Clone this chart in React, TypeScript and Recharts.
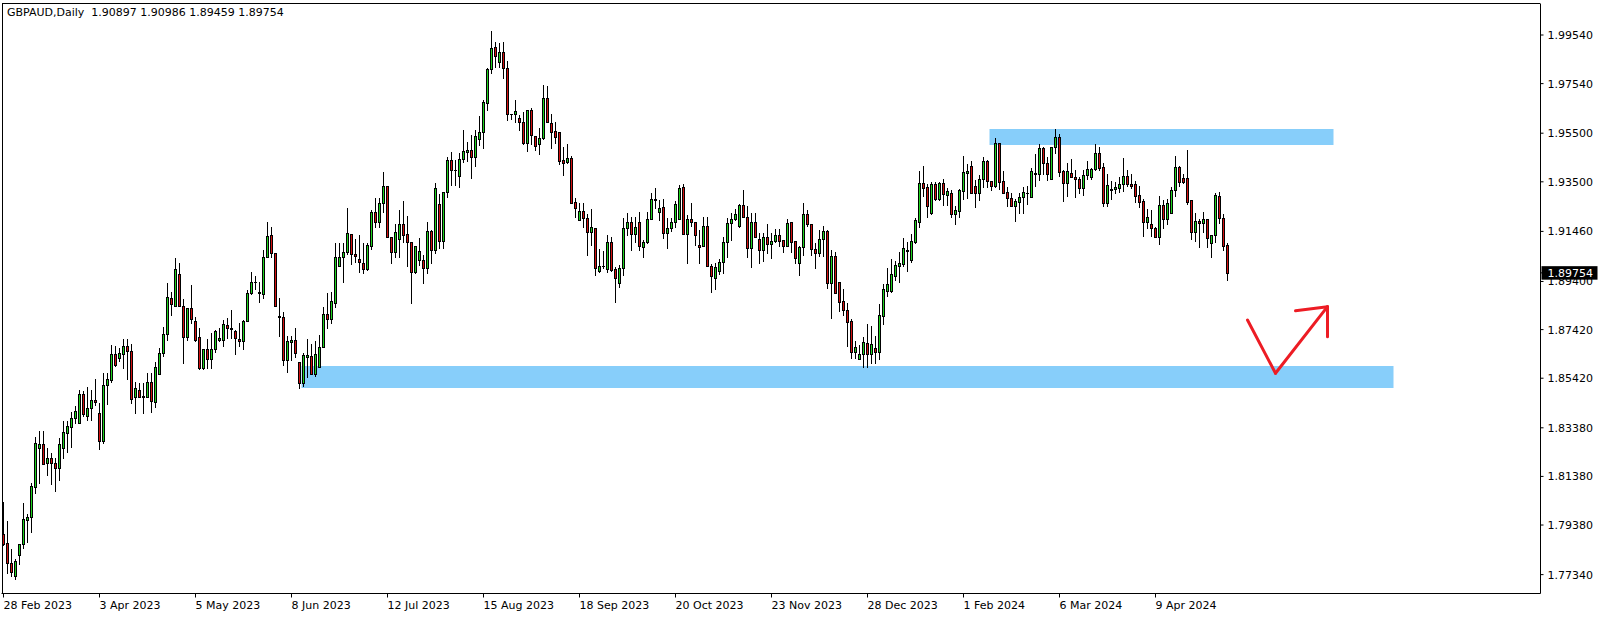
import React from 'react';
import { ComposedChart, Bar, XAxis, YAxis, ReferenceArea, ReferenceLine } from 'recharts';

const symbol = 'GBPAUD,Daily';

// daily OHLC, one entry per bar (28 Feb 2023 .. 3 May 2024)
const opens = [
  1.7901, 1.7864, 1.7782, 1.7728, 1.7815, 1.7860, 1.7959, 1.7971, 1.8094, 1.8255,
  1.8271, 1.8193, 1.8214, 1.8193, 1.8173, 1.8255, 1.8317, 1.8341, 1.8378, 1.8358,
  1.8477, 1.8387, 1.8420, 1.8452, 1.8399, 1.8284, 1.8514, 1.8535, 1.8642, 1.8625,
  1.8642, 1.8675, 1.8654, 1.8465, 1.8494, 1.8469, 1.8465, 1.8527, 1.8444, 1.8559,
  1.8646, 1.8724, 1.8872, 1.8839, 1.8971, 1.8839, 1.8712, 1.8831, 1.8777, 1.8712,
  1.8584, 1.8662, 1.8621, 1.8662, 1.8699, 1.8699, 1.8761, 1.8745, 1.8736, 1.8703,
  1.8695, 1.8777, 1.8893, 1.8938, 1.8897, 1.8888, 1.9041, 1.9131, 1.9057, 1.8798,
  1.8794, 1.8617, 1.8691, 1.8699, 1.8609, 1.8522, 1.8629, 1.8633, 1.8559, 1.8588,
  1.8670, 1.8806, 1.8786, 1.8852, 1.9004, 1.9041, 1.9061, 1.9136, 1.9053, 1.9033,
  1.9016, 1.8991, 1.9086, 1.9226, 1.9185, 1.9263, 1.9333, 1.9123, 1.9061, 1.9115,
  1.9176, 1.9136, 1.9102, 1.8979, 1.9028, 1.9028, 1.8995, 1.9148, 1.9070, 1.9259,
  1.9107, 1.9308, 1.9440, 1.9399, 1.9374, 1.9444, 1.9473, 1.9481, 1.9452, 1.9526,
  1.9555, 1.9674, 1.9814, 1.9905, 1.9843, 1.9884, 1.9818, 1.9629, 1.9629, 1.9613,
  1.9596, 1.9510, 1.9646, 1.9539, 1.9506, 1.9530, 1.9695, 1.9592, 1.9559, 1.9555,
  1.9440, 1.9432, 1.9448, 1.9267, 1.9193, 1.9230, 1.9201, 1.9144, 1.9160, 1.8983,
  1.9004, 1.8991, 1.9102, 1.8991, 1.8934, 1.8995, 1.9160, 1.9185, 1.9136, 1.9185,
  1.9082, 1.9102, 1.9197, 1.9279, 1.9226, 1.9247, 1.9140, 1.9160, 1.9185, 1.9197,
  1.9329, 1.9136, 1.9197, 1.9185, 1.9090, 1.9086, 1.9168, 1.9004, 1.8954, 1.8983,
  1.9020, 1.9102, 1.9181, 1.9197, 1.9168, 1.9255, 1.9205, 1.9078, 1.9185, 1.9115,
  1.9070, 1.9123, 1.9094, 1.9107, 1.9131, 1.9111, 1.9086, 1.9185, 1.9107, 1.9016,
  1.9082, 1.9218, 1.9176, 1.9074, 1.9057, 1.9115, 1.9148, 1.8934, 1.9045, 1.8938,
  1.8860, 1.8823, 1.8777, 1.8650, 1.8621, 1.8642, 1.8687, 1.8642, 1.8666, 1.8650,
  1.8798, 1.8901, 1.8901, 1.8963, 1.9004, 1.9012, 1.9065, 1.9028, 1.9102, 1.9185,
  1.9345, 1.9329, 1.9222, 1.9341, 1.9279, 1.9345, 1.9296, 1.9304, 1.9218, 1.9230,
  1.9312, 1.9386, 1.9415, 1.9333, 1.9304, 1.9362, 1.9436, 1.9353, 1.9333, 1.9510,
  1.9353, 1.9308, 1.9283, 1.9251, 1.9267, 1.9288, 1.9302, 1.9288, 1.9382, 1.9382,
  1.9489, 1.9428, 1.9362, 1.9493, 1.9534, 1.9395, 1.9345, 1.9386, 1.9370, 1.9362,
  1.9325, 1.9378, 1.9370, 1.9403, 1.9469, 1.9411, 1.9263, 1.9320, 1.9320, 1.9325,
  1.9341, 1.9374, 1.9341, 1.9341, 1.9296, 1.9271, 1.9185, 1.9176, 1.9160, 1.9123,
  1.9255, 1.9197, 1.9222, 1.9316, 1.9411, 1.9366, 1.9366, 1.9275, 1.9144, 1.9189,
  1.9181, 1.9197, 1.9098, 1.9131, 1.9292, 1.9201, 1.90897,
];

const highs = [
  1.8033, 1.7955, 1.7839, 1.7798, 1.7852, 1.8029, 1.7983, 1.8111, 1.8300, 1.8325,
  1.8325, 1.8255, 1.8234, 1.8214, 1.8296, 1.8366, 1.8366, 1.8403, 1.8428, 1.8494,
  1.8489, 1.8506, 1.8494, 1.8539, 1.8440, 1.8564, 1.8564, 1.8679, 1.8675, 1.8666,
  1.8703, 1.8703, 1.8683, 1.8527, 1.8522, 1.8522, 1.8564, 1.8564, 1.8609, 1.8666,
  1.8753, 1.8934, 1.8897, 1.9037, 1.9016, 1.8868, 1.8831, 1.8926, 1.8794, 1.8749,
  1.8662, 1.8703, 1.8728, 1.8740, 1.8749, 1.8782, 1.8790, 1.8823, 1.8740, 1.8769,
  1.8782, 1.8905, 1.8979, 1.8963, 1.8938, 1.9070, 1.9185, 1.9164, 1.9057, 1.8872,
  1.8815, 1.8716, 1.8716, 1.8749, 1.8609, 1.8646, 1.8703, 1.8683, 1.8695, 1.8720,
  1.8835, 1.8893, 1.8897, 1.9098, 1.9098, 1.9098, 1.9242, 1.9136, 1.9115, 1.9131,
  1.9098, 1.9098, 1.9234, 1.9283, 1.9283, 1.9390, 1.9333, 1.9123, 1.9176, 1.9234,
  1.9271, 1.9209, 1.9102, 1.9086, 1.9119, 1.9049, 1.9185, 1.9152, 1.9345, 1.9300,
  1.9308, 1.9452, 1.9473, 1.9440, 1.9469, 1.9563, 1.9514, 1.9543, 1.9563, 1.9621,
  1.9687, 1.9818, 1.9970, 1.9925, 1.9921, 1.9925, 1.9847, 1.9629, 1.9687, 1.9625,
  1.9637, 1.9646, 1.9654, 1.9539, 1.9571, 1.9748, 1.9744, 1.9629, 1.9596, 1.9555,
  1.9493, 1.9506, 1.9456, 1.9283, 1.9263, 1.9263, 1.9218, 1.9238, 1.9160, 1.9074,
  1.9065, 1.9131, 1.9123, 1.8999, 1.9008, 1.9201, 1.9222, 1.9205, 1.9205, 1.9226,
  1.9111, 1.9226, 1.9304, 1.9325, 1.9275, 1.9279, 1.9201, 1.9201, 1.9271, 1.9337,
  1.9341, 1.9214, 1.9263, 1.9185, 1.9152, 1.9205, 1.9205, 1.9012, 1.9016, 1.9033,
  1.9123, 1.9201, 1.9222, 1.9238, 1.9259, 1.9316, 1.9251, 1.9222, 1.9222, 1.9140,
  1.9140, 1.9176, 1.9140, 1.9156, 1.9156, 1.9111, 1.9197, 1.9185, 1.9107, 1.9086,
  1.9263, 1.9234, 1.9176, 1.9098, 1.9152, 1.9168, 1.9152, 1.9070, 1.9061, 1.8938,
  1.8909, 1.8852, 1.8786, 1.8695, 1.8679, 1.8712, 1.8765, 1.8757, 1.8716, 1.8847,
  1.8930, 1.8995, 1.9033, 1.9024, 1.9061, 1.9119, 1.9102, 1.9136, 1.9201, 1.9395,
  1.9415, 1.9341, 1.9349, 1.9349, 1.9349, 1.9362, 1.9325, 1.9316, 1.9251, 1.9320,
  1.9456, 1.9423, 1.9436, 1.9357, 1.9378, 1.9452, 1.9440, 1.9353, 1.9530, 1.9510,
  1.9395, 1.9329, 1.9304, 1.9279, 1.9304, 1.9329, 1.9333, 1.9407, 1.9464, 1.9506,
  1.9493, 1.9452, 1.9493, 1.9567, 1.9547, 1.9399, 1.9428, 1.9444, 1.9399, 1.9370,
  1.9399, 1.9436, 1.9407, 1.9506, 1.9493, 1.9428, 1.9382, 1.9353, 1.9349, 1.9370,
  1.9448, 1.9399, 1.9382, 1.9353, 1.9333, 1.9279, 1.9238, 1.9234, 1.9164, 1.9292,
  1.9275, 1.9279, 1.9329, 1.9456, 1.9415, 1.9382, 1.9481, 1.9275, 1.9222, 1.9197,
  1.9226, 1.9197, 1.9131, 1.9304, 1.9308, 1.9218, 1.90986,
];

const lows = [
  1.7856, 1.7741, 1.7728, 1.7716, 1.7778, 1.7844, 1.7868, 1.7909, 1.8070, 1.8111,
  1.8189, 1.8144, 1.8107, 1.8078, 1.8123, 1.8214, 1.8239, 1.8259, 1.8358, 1.8358,
  1.8387, 1.8370, 1.8370, 1.8432, 1.8251, 1.8276, 1.8436, 1.8527, 1.8592, 1.8613,
  1.8584, 1.8539, 1.8440, 1.8399, 1.8465, 1.8399, 1.8465, 1.8403, 1.8424, 1.8559,
  1.8633, 1.8699, 1.8802, 1.8839, 1.8839, 1.8605, 1.8699, 1.8769, 1.8695, 1.8580,
  1.8580, 1.8584, 1.8584, 1.8650, 1.8695, 1.8675, 1.8707, 1.8707, 1.8642, 1.8675,
  1.8662, 1.8777, 1.8888, 1.8909, 1.8856, 1.8872, 1.9041, 1.9041, 1.8839, 1.8716,
  1.8596, 1.8568, 1.8617, 1.8629, 1.8502, 1.8510, 1.8547, 1.8559, 1.8551, 1.8588,
  1.8670, 1.8749, 1.8769, 1.8835, 1.9004, 1.8938, 1.9053, 1.9012, 1.9020, 1.8979,
  1.8975, 1.8987, 1.9074, 1.9164, 1.9164, 1.9226, 1.9123, 1.9016, 1.9041, 1.9041,
  1.9102, 1.9004, 1.8852, 1.8975, 1.9008, 1.8934, 1.8975, 1.9016, 1.9057, 1.9078,
  1.9078, 1.9288, 1.9337, 1.9337, 1.9329, 1.9432, 1.9436, 1.9366, 1.9415, 1.9501,
  1.9489, 1.9646, 1.9798, 1.9822, 1.9822, 1.9777, 1.9604, 1.9608, 1.9596, 1.9563,
  1.9506, 1.9477, 1.9506, 1.9481, 1.9464, 1.9526, 1.9596, 1.9489, 1.9510, 1.9423,
  1.9378, 1.9428, 1.9263, 1.9205, 1.9193, 1.9164, 1.9049, 1.9090, 1.8967, 1.8979,
  1.8995, 1.8979, 1.8983, 1.8856, 1.8917, 1.8967, 1.9131, 1.9070, 1.9102, 1.9070,
  1.9041, 1.9098, 1.9197, 1.9242, 1.9193, 1.9119, 1.9078, 1.9148, 1.9164, 1.9197,
  1.9136, 1.9016, 1.9168, 1.9090, 1.9016, 1.9086, 1.9004, 1.8897, 1.8909, 1.8971,
  1.8975, 1.9041, 1.9111, 1.9193, 1.9164, 1.9205, 1.9041, 1.8999, 1.9123, 1.9016,
  1.9024, 1.9057, 1.9037, 1.9102, 1.9086, 1.9061, 1.9086, 1.9061, 1.9016, 1.8967,
  1.9049, 1.9168, 1.9049, 1.8995, 1.9045, 1.9045, 1.8913, 1.8790, 1.8893, 1.8819,
  1.8802, 1.8675, 1.8625, 1.8625, 1.8621, 1.8588, 1.8588, 1.8605, 1.8605, 1.8621,
  1.8765, 1.8880, 1.8897, 1.8946, 1.8938, 1.9004, 1.8983, 1.9020, 1.9098, 1.9164,
  1.9292, 1.9205, 1.9218, 1.9275, 1.9275, 1.9255, 1.9255, 1.9205, 1.9176, 1.9205,
  1.9279, 1.9283, 1.9304, 1.9247, 1.9275, 1.9329, 1.9329, 1.9316, 1.9329, 1.9320,
  1.9304, 1.9251, 1.9251, 1.9189, 1.9222, 1.9222, 1.9259, 1.9288, 1.9333, 1.9357,
  1.9382, 1.9357, 1.9362, 1.9469, 1.9374, 1.9271, 1.9292, 1.9370, 1.9288, 1.9304,
  1.9296, 1.9362, 1.9362, 1.9399, 1.9399, 1.9251, 1.9251, 1.9279, 1.9304, 1.9308,
  1.9312, 1.9333, 1.9325, 1.9267, 1.9247, 1.9127, 1.9160, 1.9127, 1.9123, 1.9094,
  1.9160, 1.9176, 1.9222, 1.9292, 1.9333, 1.9345, 1.9259, 1.9115, 1.9107, 1.9082,
  1.9144, 1.9082, 1.9041, 1.9102, 1.9181, 1.9070, 1.89459,
];

const closes = [
  1.7860, 1.7782, 1.7745, 1.7790, 1.7860, 1.7963, 1.7971, 1.8099, 1.8276, 1.8271,
  1.8189, 1.8214, 1.8193, 1.8173, 1.8271, 1.8321, 1.8346, 1.8378, 1.8407, 1.8477,
  1.8395, 1.8420, 1.8452, 1.8444, 1.8284, 1.8514, 1.8539, 1.8642, 1.8596, 1.8646,
  1.8675, 1.8654, 1.8457, 1.8502, 1.8465, 1.8465, 1.8527, 1.8448, 1.8588, 1.8646,
  1.8724, 1.8876, 1.8847, 1.8991, 1.8839, 1.8712, 1.8831, 1.8786, 1.8699, 1.8584,
  1.8662, 1.8621, 1.8662, 1.8736, 1.8707, 1.8765, 1.8749, 1.8749, 1.8707, 1.8695,
  1.8777, 1.8893, 1.8938, 1.8937, 1.8893, 1.9041, 1.9127, 1.9057, 1.8839, 1.8794,
  1.8617, 1.8695, 1.8699, 1.8646, 1.8522, 1.8638, 1.8638, 1.8559, 1.8642, 1.8670,
  1.8806, 1.8786, 1.8860, 1.9041, 1.9041, 1.9061, 1.9140, 1.9053, 1.9045, 1.9020,
  1.8991, 1.9090, 1.9226, 1.9185, 1.9263, 1.9333, 1.9123, 1.9061, 1.9144, 1.9176,
  1.9131, 1.9102, 1.8979, 1.9086, 1.9065, 1.8995, 1.9148, 1.9070, 1.9325, 1.9107,
  1.9308, 1.9440, 1.9399, 1.9398, 1.9444, 1.9477, 1.9481, 1.9452, 1.9539, 1.9555,
  1.9678, 1.9814, 1.9901, 1.9868, 1.9884, 1.9818, 1.9629, 1.9628, 1.9641, 1.9596,
  1.9510, 1.9646, 1.9543, 1.9497, 1.9530, 1.9695, 1.9596, 1.9555, 1.9534, 1.9436,
  1.9428, 1.9448, 1.9263, 1.9242, 1.9230, 1.9201, 1.9144, 1.9164, 1.8995, 1.9004,
  1.9003, 1.9102, 1.8987, 1.8954, 1.8995, 1.9160, 1.9185, 1.9136, 1.9164, 1.9086,
  1.9102, 1.9197, 1.9279, 1.9275, 1.9242, 1.9140, 1.9160, 1.9185, 1.9259, 1.9325,
  1.9136, 1.9197, 1.9185, 1.9131, 1.9082, 1.9168, 1.9004, 1.8963, 1.8999, 1.9020,
  1.9102, 1.9181, 1.9197, 1.9218, 1.9255, 1.9205, 1.9078, 1.9185, 1.9123, 1.9070,
  1.9123, 1.9094, 1.9107, 1.9131, 1.9107, 1.9086, 1.9181, 1.9102, 1.9037, 1.9082,
  1.9218, 1.9176, 1.9074, 1.9057, 1.9115, 1.9148, 1.8934, 1.9045, 1.8893, 1.8856,
  1.8823, 1.8773, 1.8650, 1.8670, 1.8642, 1.8691, 1.8642, 1.8683, 1.8650, 1.8802,
  1.8909, 1.8930, 1.8971, 1.9008, 1.9016, 1.9078, 1.9070, 1.9107, 1.9193, 1.9345,
  1.9325, 1.9251, 1.9341, 1.9279, 1.9345, 1.9300, 1.9312, 1.9218, 1.9234, 1.9316,
  1.9390, 1.9395, 1.9304, 1.9304, 1.9362, 1.9436, 1.9353, 1.9333, 1.9510, 1.9349,
  1.9304, 1.9283, 1.9251, 1.9271, 1.9288, 1.9308, 1.9306, 1.9395, 1.9386, 1.9489,
  1.9428, 1.9382, 1.9493, 1.9534, 1.9390, 1.9345, 1.9395, 1.9370, 1.9362, 1.9325,
  1.9378, 1.9403, 1.9403, 1.9469, 1.9407, 1.9263, 1.9337, 1.9316, 1.9329, 1.9341,
  1.9374, 1.9341, 1.9333, 1.9292, 1.9267, 1.9185, 1.9205, 1.9160, 1.9123, 1.9255,
  1.9197, 1.9263, 1.9316, 1.9411, 1.9349, 1.9349, 1.9267, 1.9144, 1.9189, 1.9181,
  1.9197, 1.9119, 1.9131, 1.9296, 1.9201, 1.9086, 1.89754,
];

// bar slots on the time axis (includes the empty space right of the last bar)
const slotCount = 384;
const tickBars = [0, 24, 48, 72, 96, 120, 144, 168, 192, 216, 240, 264, 288];
const tickLabels = [
  '28 Feb 2023', '3 Apr 2023', '5 May 2023', '8 Jun 2023', '12 Jul 2023', '15 Aug 2023',
  '18 Sep 2023', '20 Oct 2023', '23 Nov 2023', '28 Dec 2023', '1 Feb 2024', '6 Mar 2024', '9 Apr 2024',
];
const priceTicks = [1.9954, 1.9754, 1.955, 1.935, 1.9146, 1.894, 1.8742, 1.8542, 1.8338, 1.8138, 1.7938, 1.7734];
const priceDomain = [1.76563, 2.00836];

// drawn objects
const resistance = { from: 247, to: 332, top: 1.95673, bottom: 1.95015 };
const support = { from: 75, to: 347, top: 1.85923, bottom: 1.85018 };
const arrowLegs = [
  [{ x: 311, y: 1.87815 }, { x: 318, y: 1.85623 }],
  [{ x: 318, y: 1.85623 }, { x: 331, y: 1.88363 }],
  [{ x: 323, y: 1.88198 }, { x: 331, y: 1.88363 }],
  [{ x: 331, y: 1.88363 }, { x: 331, y: 1.87129 }],
];

const lastIdx = closes.length - 1;
const lastClose = closes[lastIdx];

const data = Array.from({ length: slotCount }, (_, i) =>
  i < opens.length ? { i, open: opens[i], high: highs[i], low: lows[i], close: closes[i] } : { i },
);

const FONT = "'DejaVu Sans', sans-serif";
const BULL = '#1ed21e';
const BEAR = '#d21010';

function Candle(props: any) {
  const { x, y, width, height, payload } = props;
  if (!payload || payload.high == null) return null;
  const { open, high, low, close } = payload;
  const top = Math.min(y, y + height);
  const h = Math.abs(height);
  const py = (p: number) => top + ((high - p) / (high - low || 1)) * h;
  const wx = Math.round(x + width / 2 - 0.5) + 0.5;
  const bt = Math.round(Math.min(py(open), py(close)));
  const bb = Math.round(Math.max(py(open), py(close)));
  const fill = close >= open ? BULL : BEAR;
  return (
    <g>
      <line x1={wx} x2={wx} y1={Math.round(py(high))} y2={Math.round(py(low)) + 1} stroke="#000" strokeWidth={1} />
      {bb > bt ? (
        <rect x={wx - 1} y={bt + 0.5} width={2} height={bb - bt} fill={fill} stroke="#000" strokeWidth={1} />
      ) : (
        <line x1={wx - 1.5} x2={wx + 1.5} y1={bt + 0.5} y2={bt + 0.5} stroke="#000" strokeWidth={1} />
      )}
    </g>
  );
}

function DateTick(props: any) {
  const { x, y, payload } = props;
  const k = tickBars.indexOf(payload.value);
  return (
    <text x={x} y={y} dy="0.71em" textAnchor="start" fontSize={11} fontFamily={FONT} fill="#000">
      {k >= 0 ? tickLabels[k] : ''}
    </text>
  );
}

function PriceTick(props: any) {
  const { x, y, payload } = props;
  const v = payload.value as number;
  if (v === lastClose) {
    return (
      <g>
        <rect x={x - 6} y={y - 6.7} width={56} height={13.5} fill="#000" />
        <text x={x} y={y} dy="0.355em" textAnchor="start" fontSize={11} fontFamily={FONT} fill="#fff">
          {v.toFixed(5)}
        </text>
      </g>
    );
  }
  return (
    <text x={x} y={y} dy="0.355em" textAnchor="start" fontSize={11} fontFamily={FONT} fill="#000">
      {v.toFixed(5)}
    </text>
  );
}

export default function App() {
  const title = `${symbol}  ${opens[lastIdx].toFixed(5)} ${highs[lastIdx].toFixed(5)} ${lows[lastIdx].toFixed(5)} ${closes[lastIdx].toFixed(5)}`;
  return (
    <div style={{ position: 'absolute', left: 0, top: 0, width: 1604, height: 617, background: '#fff' }}>
      <ComposedChart width={1604} height={617} data={data} margin={{ top: 3.5, right: 0, bottom: 0, left: 1.5 }}>
        <XAxis
          dataKey="i"
          type="category"
          ticks={tickBars}
          interval={0}
          height={23.5}
          tickSize={4}
          tickMargin={4}
          padding={{ left: 0, right: 3 }}
          axisLine={{ stroke: '#000' }}
          tickLine={{ stroke: '#000' }}
          tick={<DateTick />}
        />
        <YAxis
          orientation="right"
          type="number"
          domain={priceDomain}
          allowDataOverflow
          ticks={[...priceTicks, lastClose]}
          interval={0}
          width={63.5}
          tickSize={3}
          tickMargin={4}
          axisLine={{ stroke: '#000' }}
          tickLine={{ stroke: '#000' }}
          tick={<PriceTick />}
        />
        <ReferenceArea x1={support.from} x2={support.to} y1={support.bottom} y2={support.top} fill="#87cefa" fillOpacity={1} stroke="none" ifOverflow="visible" />
        <ReferenceArea x1={resistance.from} x2={resistance.to} y1={resistance.bottom} y2={resistance.top} fill="#87cefa" fillOpacity={1} stroke="none" ifOverflow="visible" />
        <Bar
          dataKey={(d: any) => (d.high == null ? null : [d.low, d.high])}
          shape={(p: any) => <Candle {...p} />}
          isAnimationActive={false}
        />
        {arrowLegs.map((seg, k) => (
          <ReferenceLine key={k} segment={seg} stroke="#ed1c24" strokeWidth={3} strokeLinecap="round" ifOverflow="visible" />
        ))}
      </ComposedChart>
      <div
        style={{
          position: 'absolute', left: 2, top: 3, width: 1538, height: 590, boxSizing: 'border-box',
          borderLeft: '1px solid #000', borderTop: '1px solid #000', pointerEvents: 'none',
        }}
      />
      <div
        style={{
          position: 'absolute', left: 7, top: 6, fontFamily: FONT, fontSize: 11, lineHeight: '13px',
          whiteSpace: 'pre', color: '#000',
        }}
      >
        {title}
      </div>
    </div>
  );
}
